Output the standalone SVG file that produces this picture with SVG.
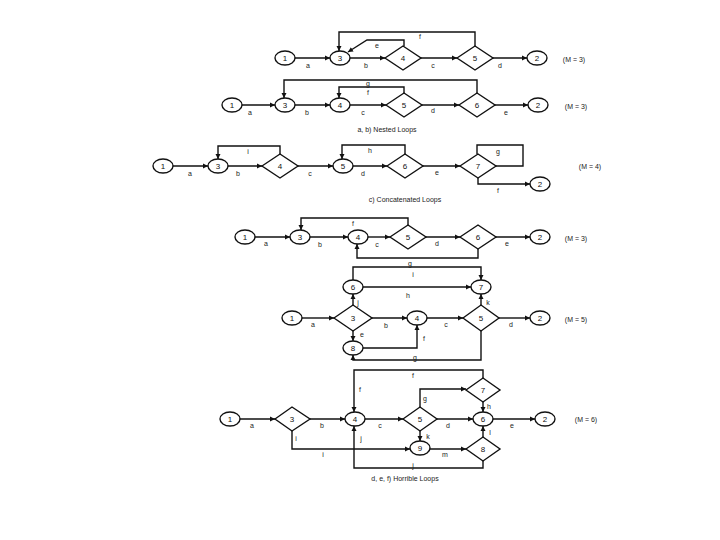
<svg xmlns="http://www.w3.org/2000/svg" width="720" height="540" viewBox="0 0 720 540">
<defs>
<marker id="ah" markerWidth="6" markerHeight="6" refX="5" refY="3" orient="auto" markerUnits="userSpaceOnUse"><path d="M0,0.5 L5,3 L0,5.5 Z" fill="#111"/></marker>
<style>
.n{fill:#fff;stroke:#111;stroke-width:1.4}
.e{fill:none;stroke:#111;stroke-width:1.4;marker-end:url(#ah)}
.p{fill:none;stroke:#111;stroke-width:1.4}
.t{font-family:"Liberation Sans",Arial,sans-serif;font-size:8px;fill:#111;text-anchor:middle;dominant-baseline:central}
.l{font-family:"Liberation Sans",Arial,sans-serif;font-size:7px;fill:#222;text-anchor:middle;dominant-baseline:central}
.c{font-family:"Liberation Sans",Arial,sans-serif;font-size:7px;fill:#222;text-anchor:middle;dominant-baseline:central}
</style>
</defs>
<rect width="720" height="540" fill="#fff"/>

<g id="connectors">
<!-- row 1 -->
<path class="e" d="M295,58 L330,58"/>
<path class="e" d="M350,58 L385,58"/>
<path class="e" d="M421,58 L457,58"/>
<path class="e" d="M493,58 L527,58"/>
<path class="e" d="M404,46 L404,40 L367,40 L348,52"/>
<path class="e" d="M475,46 L475,32 L339,32 L339,51"/>
<!-- row 2 -->
<path class="e" d="M242,105 L275,105"/>
<path class="e" d="M295,105 L330,105"/>
<path class="e" d="M350,105 L386,105"/>
<path class="e" d="M422,105 L459,105"/>
<path class="e" d="M495,105 L528,105"/>
<path class="e" d="M404,93 L404,87 L339,87 L339,98"/>
<path class="e" d="M477,93 L477,80 L284,80 L284,98"/>
<!-- row 3 -->
<path class="e" d="M173,166 L208,166"/>
<path class="e" d="M228,166 L262,166"/>
<path class="e" d="M298,166 L333,166"/>
<path class="e" d="M353,166 L387,166"/>
<path class="e" d="M423,166 L460,166"/>
<path class="e" d="M280,154 L280,146 L218,146 L218,159"/>
<path class="e" d="M405,154 L405,145 L342,145 L342,159"/>
<path class="p" d="M496,166 L523,166 L523,145 L477,145 L477,154"/>
<path class="e" d="M478,178 L478,184 L530,184"/>
<!-- row 4 -->
<path class="e" d="M255,237 L290,237"/>
<path class="e" d="M310,237 L348,237"/>
<path class="e" d="M368,237 L390,237"/>
<path class="e" d="M426,237 L460,237"/>
<path class="e" d="M496,237 L530,237"/>
<path class="e" d="M408,225 L408,218 L301,218 L301,230"/>
<path class="e" d="M478,249 L478,258 L357,258 L357,244"/>
<!-- row 5 -->
<path class="e" d="M302,318 L334,318"/>
<path class="e" d="M370,318 L407,318"/>
<path class="e" d="M427,318 L463,318"/>
<path class="e" d="M499,318 L530,318"/>
<path class="e" d="M353,305 L353,294"/>
<path class="e" d="M353,331 L353,341"/>
<path class="e" d="M363,287 L471,287"/>
<path class="e" d="M481,305 L481,294"/>
<path class="e" d="M353,280 L353,267 L481,267 L481,280"/>
<path class="e" d="M363,348 L417,348 L417,325"/>
<path class="e" d="M481,331 L481,360 L353,360 L353,355"/>
<!-- row 6 -->
<path class="e" d="M240,419 L275,419"/>
<path class="e" d="M310,419 L345,419"/>
<path class="e" d="M365,419 L403,419"/>
<path class="e" d="M437,419 L473,419"/>
<path class="e" d="M493,419 L535,419"/>
<path class="e" d="M420,407 L420,389 L466,389"/>
<path class="e" d="M483,402 L483,412"/>
<path class="e" d="M483,378 L483,370 L354,370 L354,412"/>
<path class="e" d="M420,431 L420,441"/>
<path class="e" d="M292,431 L292,449 L410,449"/>
<path class="e" d="M430,449 L466,449"/>
<path class="e" d="M483,437 L483,426"/>
<path class="e" d="M483,461 L483,468 L354,468 L354,426"/>
</g>

<g id="edge-labels">
<text class="l" x="308" y="65">a</text><text class="l" x="366" y="65">b</text><text class="l" x="433" y="65">c</text><text class="l" x="500" y="65">d</text><text class="l" x="377" y="45">e</text><text class="l" x="420" y="36">f</text>
<text class="l" x="250" y="112">a</text><text class="l" x="307" y="112">b</text><text class="l" x="363" y="112">c</text><text class="l" x="433" y="110">d</text><text class="l" x="506" y="112">e</text><text class="l" x="368" y="92">f</text><text class="l" x="368" y="83">g</text>
<text class="l" x="190" y="173">a</text><text class="l" x="238" y="173">b</text><text class="l" x="310" y="173">c</text><text class="l" x="363" y="173">d</text><text class="l" x="437" y="172">e</text><text class="l" x="248" y="151">i</text><text class="l" x="370" y="150">h</text><text class="l" x="498" y="151">g</text><text class="l" x="498" y="190">f</text>
<text class="l" x="266" y="243">a</text><text class="l" x="320" y="244">b</text><text class="l" x="377" y="244">c</text><text class="l" x="437" y="243">d</text><text class="l" x="507" y="243">e</text><text class="l" x="353" y="223">f</text><text class="l" x="410" y="263">g</text>
<text class="l" x="313" y="324">a</text><text class="l" x="386" y="325">b</text><text class="l" x="446" y="324">c</text><text class="l" x="511" y="324">d</text><text class="l" x="358" y="302">j</text><text class="l" x="362" y="334">e</text><text class="l" x="408" y="295">h</text><text class="l" x="488" y="302">k</text><text class="l" x="413" y="274">i</text><text class="l" x="424" y="338">f</text><text class="l" x="415" y="357">g</text>
<text class="l" x="252" y="425">a</text><text class="l" x="322" y="425">b</text><text class="l" x="380" y="425">c</text><text class="l" x="448" y="425">d</text><text class="l" x="512" y="425">e</text><text class="l" x="425" y="398">g</text><text class="l" x="489" y="406">h</text><text class="l" x="413" y="375">f</text><text class="l" x="360" y="389">f</text><text class="l" x="428" y="436">k</text><text class="l" x="296" y="438">i</text><text class="l" x="323" y="454">i</text><text class="l" x="445" y="454">m</text><text class="l" x="490" y="432">l</text><text class="l" x="413" y="465">j</text><text class="l" x="361" y="438">j</text>
</g>

<!-- row 1 nodes -->
<g id="r1-n1"><ellipse class="n" cx="285" cy="58" rx="10" ry="7"/><text class="t" x="285" y="58">1</text></g>
<g id="r1-n3"><ellipse class="n" cx="340" cy="58" rx="10" ry="7"/><text class="t" x="340" y="58">3</text></g>
<g id="r1-n4"><polygon class="n" points="385,58 403,46 421,58 403,70"/><text class="t" x="403" y="58">4</text></g>
<g id="r1-n5"><polygon class="n" points="457,58 475,46 493,58 475,70"/><text class="t" x="475" y="58">5</text></g>
<g id="r1-n2"><ellipse class="n" cx="537" cy="58" rx="10" ry="7"/><text class="t" x="537" y="58">2</text></g>
<text class="c" x="574" y="59">(M = 3)</text>

<!-- row 2 nodes -->
<g id="r2-n1"><ellipse class="n" cx="232" cy="105" rx="10" ry="7"/><text class="t" x="232" y="105">1</text></g>
<g id="r2-n3"><ellipse class="n" cx="285" cy="105" rx="10" ry="7"/><text class="t" x="285" y="105">3</text></g>
<g id="r2-n4"><ellipse class="n" cx="340" cy="105" rx="10" ry="7"/><text class="t" x="340" y="105">4</text></g>
<g id="r2-n5"><polygon class="n" points="386,105 404,93 422,105 404,117"/><text class="t" x="404" y="105">5</text></g>
<g id="r2-n6"><polygon class="n" points="459,105 477,93 495,105 477,117"/><text class="t" x="477" y="105">6</text></g>
<g id="r2-n2"><ellipse class="n" cx="538" cy="105" rx="10" ry="7"/><text class="t" x="538" y="105">2</text></g>
<text class="c" x="576" y="106">(M = 3)</text>
<text class="c" x="387" y="129">a, b)  Nested Loops</text>

<!-- row 3 nodes -->
<g id="r3-n1"><ellipse class="n" cx="163" cy="166" rx="10" ry="7"/><text class="t" x="163" y="166">1</text></g>
<g id="r3-n3"><ellipse class="n" cx="218" cy="166" rx="10" ry="7"/><text class="t" x="218" y="166">3</text></g>
<g id="r3-n4"><polygon class="n" points="262,166 280,154 298,166 280,178"/><text class="t" x="280" y="166">4</text></g>
<g id="r3-n5"><ellipse class="n" cx="343" cy="166" rx="10" ry="7"/><text class="t" x="343" y="166">5</text></g>
<g id="r3-n6"><polygon class="n" points="387,166 405,154 423,166 405,178"/><text class="t" x="405" y="166">6</text></g>
<g id="r3-n7"><polygon class="n" points="460,166 478,154 496,166 478,178"/><text class="t" x="478" y="166">7</text></g>
<g id="r3-n2"><ellipse class="n" cx="540" cy="184" rx="10" ry="7"/><text class="t" x="540" y="184">2</text></g>
<text class="c" x="590" y="166">(M = 4)</text>
<text class="c" x="405" y="199">c)  Concatenated Loops</text>

<!-- row 4 nodes -->
<g id="r4-n1"><ellipse class="n" cx="245" cy="237" rx="10" ry="7"/><text class="t" x="245" y="237">1</text></g>
<g id="r4-n3"><ellipse class="n" cx="300" cy="237" rx="10" ry="7"/><text class="t" x="300" y="237">3</text></g>
<g id="r4-n4"><ellipse class="n" cx="358" cy="237" rx="10" ry="7"/><text class="t" x="358" y="237">4</text></g>
<g id="r4-n5"><polygon class="n" points="390,237 408,225 426,237 408,249"/><text class="t" x="408" y="237">5</text></g>
<g id="r4-n6"><polygon class="n" points="460,237 478,225 496,237 478,249"/><text class="t" x="478" y="237">6</text></g>
<g id="r4-n2"><ellipse class="n" cx="540" cy="237" rx="10" ry="7"/><text class="t" x="540" y="237">2</text></g>
<text class="c" x="576" y="238">(M = 3)</text>

<!-- row 5 nodes -->
<g id="r5-n1"><ellipse class="n" cx="292" cy="318" rx="10" ry="7"/><text class="t" x="292" y="318">1</text></g>
<g id="r5-n3"><polygon class="n" points="334,318 353,305 372,318 353,331"/><text class="t" x="353" y="318">3</text></g>
<g id="r5-n6"><ellipse class="n" cx="353" cy="287" rx="10" ry="7"/><text class="t" x="353" y="287">6</text></g>
<g id="r5-n8"><ellipse class="n" cx="353" cy="348" rx="10" ry="7"/><text class="t" x="353" y="348">8</text></g>
<g id="r5-n4"><ellipse class="n" cx="417" cy="318" rx="10" ry="7"/><text class="t" x="417" y="318">4</text></g>
<g id="r5-n5"><polygon class="n" points="463,318 481,305 499,318 481,331"/><text class="t" x="481" y="318">5</text></g>
<g id="r5-n7"><ellipse class="n" cx="481" cy="287" rx="10" ry="7"/><text class="t" x="481" y="287">7</text></g>
<g id="r5-n2"><ellipse class="n" cx="540" cy="318" rx="10" ry="7"/><text class="t" x="540" y="318">2</text></g>
<text class="c" x="576" y="319">(M = 5)</text>

<!-- row 6 nodes -->
<g id="r6-n1"><ellipse class="n" cx="230" cy="419" rx="10" ry="7"/><text class="t" x="230" y="419">1</text></g>
<g id="r6-n3"><polygon class="n" points="275,419 292,407 310,419 292,431"/><text class="t" x="292" y="419">3</text></g>
<g id="r6-n4"><ellipse class="n" cx="355" cy="419" rx="10" ry="7"/><text class="t" x="355" y="419">4</text></g>
<g id="r6-n5"><polygon class="n" points="403,419 420,407 437,419 420,431"/><text class="t" x="420" y="419">5</text></g>
<g id="r6-n6"><ellipse class="n" cx="483" cy="419" rx="10" ry="7"/><text class="t" x="483" y="419">6</text></g>
<g id="r6-n2"><ellipse class="n" cx="545" cy="419" rx="10" ry="7"/><text class="t" x="545" y="419">2</text></g>
<g id="r6-n7"><polygon class="n" points="466,390 483,378 500,390 483,402"/><text class="t" x="483" y="390">7</text></g>
<g id="r6-n9"><ellipse class="n" cx="420" cy="448" rx="10" ry="7"/><text class="t" x="420" y="448">9</text></g>
<g id="r6-n8"><polygon class="n" points="466,449 483,437 500,449 483,461"/><text class="t" x="483" y="449">8</text></g>
<text class="c" x="586" y="419">(M = 6)</text>
<text class="c" x="405" y="478">d, e, f)  Horrible Loops</text>
</svg>
